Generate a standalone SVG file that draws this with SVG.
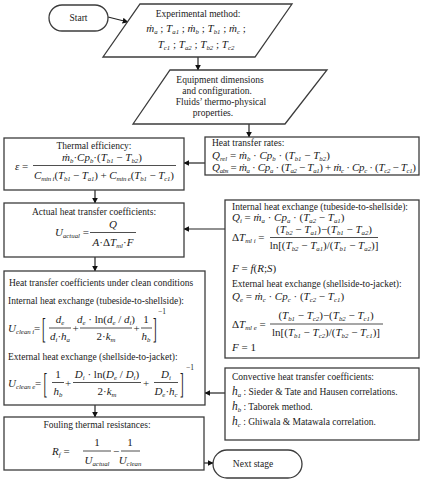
<svg xmlns="http://www.w3.org/2000/svg" width="422" height="480" viewBox="0 0 422 480">
<defs>
<style>
.box{fill:#fff;stroke:#3c3c3c;stroke-width:1.3}
.tx{font-family:"Liberation Serif","Times New Roman","DejaVu Serif",serif;font-size:9.5px;fill:#1a1a1a}
.mt{font-family:"Liberation Serif","Times New Roman","DejaVu Serif",serif;font-size:11px;fill:#1a1a1a}
.c{text-anchor:middle}
.i{font-style:italic}
.s{font-size:6.8px;font-style:italic;baseline-shift:-2px}
.up{font-family:"Liberation Serif","Times New Roman",serif;font-size:7.5px;fill:#1a1a1a}
.con{fill:none;stroke:#222;stroke-width:1.2;marker-end:url(#ah)}
.fl{stroke:#222;stroke-width:0.8}
</style>
<marker id="ah" viewBox="0 0 10 10" refX="9" refY="5" markerWidth="5" markerHeight="5" orient="auto"><path d="M0,0 L10,5 L0,10 z" fill="#111"/></marker>
</defs>
<rect width="422" height="480" fill="#fff"/>

<g id="connectors">
<path class="con" d="M108,17 L128,22"/>
<path class="con" d="M198,57 V70"/>
<path class="con" d="M249,124 V137"/>
<path class="con" d="M205,163 H184"/>
<path class="con" d="M95,190 V203"/>
<path class="con" d="M225,229 H184"/>
<path class="con" d="M95,257 V271"/>
<path class="con" d="M225,393 H205"/>
<path class="con" d="M95,405 V417"/>
<path class="con" d="M204,463 H213"/>
</g>

<g id="start">
<rect class="box" x="49" y="5" width="59" height="26" rx="13"/>
<text class="tx c" x="78.5" y="21">Start</text>
</g>

<g id="experimental">
<polygon class="box" points="140,4 292,4 255,57 103,57"/>
<text class="tx c" x="198" y="17">Experimental method:</text>
<text class="mt c" x="196" y="32" font-size="12"><tspan class="i">ṁ</tspan><tspan class="s">a</tspan> ; <tspan class="i">T</tspan><tspan class="s">a1</tspan> ; <tspan class="i">ṁ</tspan><tspan class="s">b</tspan> ; <tspan class="i">T</tspan><tspan class="s">b1</tspan> ; <tspan class="i">ṁ</tspan><tspan class="s">c</tspan> ;</text>
<text class="mt c" x="196" y="48" font-size="12"><tspan class="i">T</tspan><tspan class="s">c1</tspan> ; <tspan class="i">T</tspan><tspan class="s">a2</tspan> ; <tspan class="i">T</tspan><tspan class="s">b2</tspan> ; <tspan class="i">T</tspan><tspan class="s">c2</tspan></text>
</g>

<g id="equipment">
<polygon class="box" points="170,70 327,70 285,124 133,124"/>
<text class="tx c" x="220" y="83">Equipment dimensions</text>
<text class="tx c" x="217" y="94">and configuration.</text>
<text class="tx c" x="221" y="105">Fluids’ thermo-physical</text>
<text class="tx c" x="213" y="116">properties.</text>
</g>

<g id="rates">
<rect class="box" x="205" y="137" width="214" height="38"/>
<text class="tx" x="212" y="146">Heat transfer rates:</text>
<text class="mt" x="212" y="158.5" font-size="11.5"><tspan class="i">Q</tspan><tspan class="s">rel</tspan> = <tspan class="i">ṁ</tspan><tspan class="s">b</tspan> · <tspan class="i">Cp</tspan><tspan class="s">b</tspan> · (<tspan class="i">T</tspan><tspan class="s">b1</tspan> − <tspan class="i">T</tspan><tspan class="s">b2</tspan>)</text>
<text class="mt" x="212" y="170.5" font-size="11.5" textLength="204" lengthAdjust="spacing"><tspan class="i">Q</tspan><tspan class="s">abs</tspan> = <tspan class="i">ṁ</tspan><tspan class="s">a</tspan> · <tspan class="i">Cp</tspan><tspan class="s">a</tspan> · (<tspan class="i">T</tspan><tspan class="s">a2</tspan> − <tspan class="i">T</tspan><tspan class="s">a1</tspan>) + <tspan class="i">ṁ</tspan><tspan class="s">c</tspan> · <tspan class="i">Cp</tspan><tspan class="s">c</tspan> · (<tspan class="i">T</tspan><tspan class="s">c2</tspan> − <tspan class="i">T</tspan><tspan class="s">c1</tspan>)</text>
</g>

<g id="efficiency">
<rect class="box" x="4" y="138" width="180" height="52"/>
<text class="tx c" x="94" y="149">Thermal efficiency:</text>
<text class="mt" x="15" y="170" font-size="12"><tspan class="i">ε</tspan> =</text>
<text class="mt c" x="102" y="161" font-size="11.5"><tspan class="i">ṁ</tspan><tspan class="s">b</tspan>·<tspan class="i">Cp</tspan><tspan class="s">b</tspan>·(<tspan class="i">T</tspan><tspan class="s">b1</tspan> − <tspan class="i">T</tspan><tspan class="s">b2</tspan>)</text>
<line class="fl" x1="33" y1="165.5" x2="176" y2="165.5"/>
<text class="mt c" x="104" y="179" font-size="11.5" textLength="140" lengthAdjust="spacing"><tspan class="i">C</tspan><tspan class="s">min i</tspan>(<tspan class="i">T</tspan><tspan class="s">b1</tspan> − <tspan class="i">T</tspan><tspan class="s">a1</tspan>) + <tspan class="i">C</tspan><tspan class="s">min e</tspan>(<tspan class="i">T</tspan><tspan class="s">b1</tspan> − <tspan class="i">T</tspan><tspan class="s">c1</tspan>)</text>
</g>

<g id="actual">
<rect class="box" x="4" y="203" width="180" height="54"/>
<text class="tx c" x="94" y="215">Actual heat transfer coefficients:</text>
<text class="mt" x="55" y="236" font-size="12"><tspan class="i">U</tspan><tspan class="s">actual</tspan> =</text>
<text class="mt c i" x="113" y="228" font-size="12">Q</text>
<line class="fl" x1="90" y1="232.5" x2="136" y2="232.5"/>
<text class="mt c" x="113" y="246"><tspan class="i">A</tspan>·Δ<tspan class="i">T</tspan><tspan class="s">ml</tspan>·<tspan class="i">F</tspan></text>
</g>

<g id="internal">
<rect class="box" x="225" y="200" width="194" height="158"/>
<text class="tx" x="232" y="210">Internal heat exchange (tubeside-to-shellside):</text>
<text class="mt" x="232" y="221"><tspan class="i">Q</tspan><tspan class="s">i</tspan> = <tspan class="i">ṁ</tspan><tspan class="s">a</tspan> · <tspan class="i">Cp</tspan><tspan class="s">a</tspan> · (<tspan class="i">T</tspan><tspan class="s">a2</tspan> − <tspan class="i">T</tspan><tspan class="s">a1</tspan>)</text>
<text class="mt" x="232" y="241">Δ<tspan class="i">T</tspan><tspan class="s">ml i</tspan> =</text>
<text class="mt c" x="324" y="233">(<tspan class="i">T</tspan><tspan class="s">b2</tspan> − <tspan class="i">T</tspan><tspan class="s">a1</tspan>)−(<tspan class="i">T</tspan><tspan class="s">b1</tspan> − <tspan class="i">T</tspan><tspan class="s">a2</tspan>)</text>
<line class="fl" x1="270" y1="237.5" x2="378" y2="237.5"/>
<text class="mt c" x="324" y="249">ln[(<tspan class="i">T</tspan><tspan class="s">b2</tspan> − <tspan class="i">T</tspan><tspan class="s">a1</tspan>)/(<tspan class="i">T</tspan><tspan class="s">b1</tspan> − <tspan class="i">T</tspan><tspan class="s">a2</tspan>)]</text>
<text class="mt" x="232" y="272"><tspan class="i">F</tspan> = <tspan class="i">f</tspan>(<tspan class="i">R</tspan>;<tspan class="i">S</tspan>)</text>
<text class="tx" x="232" y="287">External heat exchange (shellside-to-jacket):</text>
<text class="mt" x="232" y="300"><tspan class="i">Q</tspan><tspan class="s">e</tspan> = <tspan class="i">ṁ</tspan><tspan class="s">c</tspan> · <tspan class="i">Cp</tspan><tspan class="s">c</tspan> · (<tspan class="i">T</tspan><tspan class="s">c2</tspan> − <tspan class="i">T</tspan><tspan class="s">c1</tspan>)</text>
<text class="mt" x="232" y="328">Δ<tspan class="i">T</tspan><tspan class="s">ml e</tspan> =</text>
<text class="mt c" x="326" y="319">(<tspan class="i">T</tspan><tspan class="s">b1</tspan> − <tspan class="i">T</tspan><tspan class="s">c2</tspan>)−(<tspan class="i">T</tspan><tspan class="s">b2</tspan> − <tspan class="i">T</tspan><tspan class="s">c1</tspan>)</text>
<line class="fl" x1="270" y1="324" x2="383" y2="324"/>
<text class="mt c" x="326" y="336">ln[(<tspan class="i">T</tspan><tspan class="s">b1</tspan> − <tspan class="i">T</tspan><tspan class="s">c2</tspan>)/(<tspan class="i">T</tspan><tspan class="s">b2</tspan> − <tspan class="i">T</tspan><tspan class="s">c1</tspan>)]</text>
<text class="mt" x="232" y="351"><tspan class="i">F</tspan> = 1</text>
</g>

<g id="clean">
<rect class="box" x="4" y="271" width="201" height="134"/>
<text class="tx c" x="101" y="286">Heat transfer coefficients under clean conditions</text>
<text class="tx" x="8" y="304">Internal heat exchange (tubeside-to-shellside):</text>
<text class="mt" x="8" y="332" font-size="12"><tspan class="i">U</tspan><tspan class="s">clean i</tspan></text>
<text class="mt" x="34" y="332">=</text>
<text class="mt" transform="translate(42,338) scale(1,2.7)">[</text>
<text class="mt c" x="60" y="323"><tspan class="i">d</tspan><tspan class="s">e</tspan></text>
<line class="fl" x1="49" y1="328" x2="71" y2="328"/>
<text class="mt c" x="60" y="340"><tspan class="i">d</tspan><tspan class="s">i</tspan>·<tspan class="i">h</tspan><tspan class="s">a</tspan></text>
<text class="mt" x="72.5" y="332">+</text>
<text class="mt c" x="106" y="323"><tspan class="i">d</tspan><tspan class="s">e</tspan> · ln(<tspan class="i">d</tspan><tspan class="s">e</tspan> / <tspan class="i">d</tspan><tspan class="s">i</tspan>)</text>
<line class="fl" x1="80" y1="328" x2="132" y2="328"/>
<text class="mt c" x="106" y="340">2·<tspan class="i">k</tspan><tspan class="s">m</tspan></text>
<text class="mt" x="133.5" y="332">+</text>
<text class="mt c" x="146" y="323">1</text>
<line class="fl" x1="141" y1="328" x2="152" y2="328"/>
<text class="mt c" x="146" y="340"><tspan class="i">h</tspan><tspan class="s">b</tspan></text>
<text class="mt" transform="translate(153,338) scale(1,2.7)">]</text>
<text class="up" x="158" y="314">−1</text>
<text class="tx" x="8" y="360">External heat exchange (shellside-to-jacket):</text>
<text class="mt" x="8" y="387" font-size="12"><tspan class="i">U</tspan><tspan class="s">clean e</tspan></text>
<text class="mt" x="35" y="387">=</text>
<text class="mt" transform="translate(43.5,393) scale(1,2.7)">[</text>
<text class="mt c" x="58" y="378">1</text>
<line class="fl" x1="52" y1="382.5" x2="64" y2="382.5"/>
<text class="mt c" x="58" y="395"><tspan class="i">h</tspan><tspan class="s">b</tspan></text>
<text class="mt" x="65" y="387">+</text>
<text class="mt c" x="107" y="378"><tspan class="i">D</tspan><tspan class="s">i</tspan> · ln(<tspan class="i">D</tspan><tspan class="s">e</tspan> / <tspan class="i">D</tspan><tspan class="s">i</tspan>)</text>
<line class="fl" x1="73" y1="382.5" x2="141" y2="382.5"/>
<text class="mt c" x="107" y="395">2·<tspan class="i">k</tspan><tspan class="s">m</tspan></text>
<text class="mt" x="143" y="387">+</text>
<text class="mt c" x="166" y="378"><tspan class="i">D</tspan><tspan class="s">i</tspan></text>
<line class="fl" x1="154" y1="382.5" x2="178" y2="382.5"/>
<text class="mt c" x="166" y="395"><tspan class="i">D</tspan><tspan class="s">e</tspan>·<tspan class="i">h</tspan><tspan class="s">c</tspan></text>
<text class="mt" transform="translate(180,393) scale(1,2.7)">]</text>
<text class="up" x="186" y="370">−1</text>
</g>

<g id="convective">
<rect class="box" x="225" y="368" width="194" height="72"/>
<text class="tx" x="232" y="380">Convective heat transfer coefficients:</text>
<text class="tx" x="232" y="395"><tspan class="i" font-size="11.5">h</tspan><tspan class="s">a</tspan> : Sieder &amp; Tate and Hausen correlations.</text>
<text class="tx" x="232" y="410"><tspan class="i" font-size="11.5">h</tspan><tspan class="s">b</tspan> : Taborek method.</text>
<text class="tx" x="232" y="425"><tspan class="i" font-size="11.5">h</tspan><tspan class="s">c</tspan> : Ghiwala &amp; Matawala correlation.</text>
</g>

<g id="fouling">
<rect class="box" x="4" y="417" width="200" height="53"/>
<text class="tx c" x="97" y="428">Fouling thermal resistances:</text>
<text class="mt" x="52" y="455" font-size="12"><tspan class="i">R</tspan><tspan class="s">f</tspan> =</text>
<text class="mt c" x="97" y="446">1</text>
<line class="fl" x1="83" y1="451" x2="111" y2="451"/>
<text class="mt c" x="97" y="464"><tspan class="i">U</tspan><tspan class="s">actual</tspan></text>
<text class="mt" x="113" y="455">−</text>
<text class="mt c" x="130" y="446">1</text>
<line class="fl" x1="121" y1="451" x2="140" y2="451"/>
<text class="mt c" x="130" y="464"><tspan class="i">U</tspan><tspan class="s">clean</tspan></text>
</g>

<g id="next">
<rect class="box" x="213" y="450" width="89" height="28" rx="14"/>
<text class="tx c" x="253" y="467">Next stage</text>
</g>
</svg>
